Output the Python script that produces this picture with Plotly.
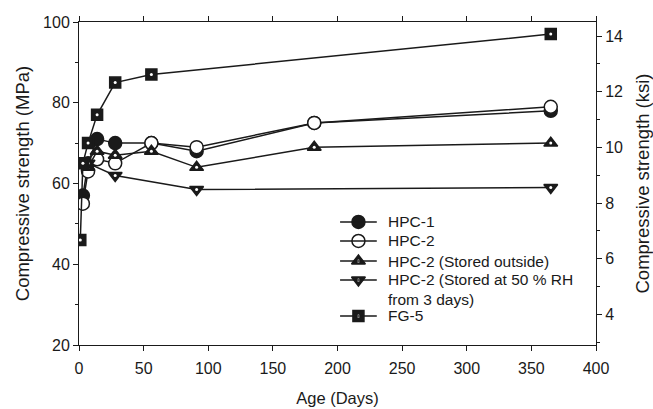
import plotly.graph_objects as go

# Compressive strength development (MPa) versus age (days)
hpc1_days = [3, 7, 14, 28, 56, 91, 182, 365]
hpc1_mpa = [57, 65, 71, 70, 70, 68, 75, 78]

hpc2_days = [3, 7, 14, 28, 56, 91, 182, 365]
hpc2_mpa = [55, 63, 66, 65, 70, 69, 75, 79]

outside_days = [7, 14, 28, 56, 91, 182, 365]
outside_mpa = [64, 68, 67, 68, 64, 69, 70]

rh50_days = [7, 28, 91, 365]
rh50_mpa = [65, 62, 58.5, 59]

fg5_days = [1, 3, 7, 14, 28, 56, 365]
fg5_mpa = [46, 65, 70, 77, 85, 87, 97]

series_names = [
    "HPC-1",
    "HPC-2",
    "HPC-2 (Stored outside)",
    "HPC-2 (Stored at 50 % RH<br>from 3 days)",
    "FG-5",
]

MPA_TO_KSI = 0.145038
y_range = [20, 100]

FONT = "Liberation Sans, Arial, sans-serif"
BLACK = "#1a1a1a"

# marker styles: (symbol, fill, size, white centre dot)
styles = [
    ("circle", BLACK, 13, False),
    ("circle", "white", 13, False),
    ("triangle-up", BLACK, 12, True),
    ("triangle-down", BLACK, 12, True),
    ("square", BLACK, 11, True),
]
data = [
    (hpc1_days, hpc1_mpa),
    (hpc2_days, hpc2_mpa),
    (outside_days, outside_mpa),
    (rh50_days, rh50_mpa),
    (fg5_days, fg5_mpa),
]

fig = go.Figure()

for (days, vals), (symbol, fill, size, dot), name in zip(data, styles, series_names):
    fig.add_trace(go.Scatter(
        x=days, y=vals, name=name.replace("<br>", " "), mode="lines+markers",
        showlegend=False,
        line=dict(color=BLACK, width=1.5),
        marker=dict(symbol=symbol, size=size, color=fill,
                    line=dict(color=BLACK, width=1.5)),
    ))
    if dot:
        fig.add_trace(go.Scatter(
            x=days, y=vals, mode="markers", showlegend=False, hoverinfo="skip",
            marker=dict(symbol="circle", size=3, color="white", line=dict(width=0)),
        ))

# secondary axis carrier for the ksi scale
fig.add_trace(go.Scatter(
    x=[0, 0], y=[v * MPA_TO_KSI for v in y_range], yaxis="y2",
    mode="markers", marker=dict(opacity=0), showlegend=False, hoverinfo="skip",
))

# ---- key (placed in plot-area fractions; markers on a hidden overlay axis) ----
key_x0, key_x1 = 0.505, 0.576      # line sample extent
key_text_x = 0.593
key_rows = [0.381, 0.322, 0.260, 0.201, 0.090]
key_text_top = [None, None, None, 0.236, None]

key_mid = (key_x0 + key_x1) / 2
for (symbol, fill, size, dot), name, ky, top in zip(styles, series_names, key_rows, key_text_top):
    fig.add_shape(type="line", xref="paper", yref="paper",
                  x0=key_x0, x1=key_x1, y0=ky, y1=ky,
                  line=dict(color=BLACK, width=1.5))
    fig.add_trace(go.Scatter(
        x=[key_mid], y=[ky], xaxis="x3", yaxis="y3", mode="markers",
        showlegend=False, hoverinfo="skip",
        marker=dict(symbol=symbol, size=size, color=fill,
                    line=dict(color=BLACK, width=1.5)),
    ))
    if dot:
        fig.add_trace(go.Scatter(
            x=[key_mid], y=[ky], xaxis="x3", yaxis="y3", mode="markers",
            showlegend=False, hoverinfo="skip",
            marker=dict(symbol="circle", size=3, color="white", line=dict(width=0)),
        ))
    if top is None:
        fig.add_annotation(x=key_text_x, y=ky, xref="paper", yref="paper",
                           text=name, showarrow=False, xanchor="left", yanchor="middle",
                           align="left", font=dict(family=FONT, size=15.5, color=BLACK))
    else:
        fig.add_annotation(x=key_text_x, y=top, xref="paper", yref="paper",
                           text=name, showarrow=False, xanchor="left", yanchor="top",
                           align="left", font=dict(family=FONT, size=15.5, color=BLACK))

axis_common = dict(
    showline=True, linecolor=BLACK, linewidth=1, showgrid=False, zeroline=False,
    ticks="outside", ticklen=5, tickwidth=1, tickcolor=BLACK, automargin=False,
    tickfont=dict(family=FONT, size=16, color=BLACK),
)

fig.update_layout(
    width=653, height=409,
    margin=dict(l=79, r=57, t=22, b=64),
    paper_bgcolor="white", plot_bgcolor="white",
    font=dict(family=FONT, size=15, color=BLACK),
    showlegend=False,
    xaxis=dict(
        range=[0, 400], dtick=50, mirror="ticks", ticklabelstandoff=4,
        title=dict(text="Age (Days)", font=dict(size=16.5), standoff=16),
        **axis_common,
    ),
    yaxis=dict(
        range=y_range, dtick=20,
        minor=dict(dtick=10, ticks="outside", ticklen=3, tickcolor=BLACK),
        title=dict(text="Compressive strength (MPa)", font=dict(size=18.5), standoff=8),
        **axis_common,
    ),
    yaxis2=dict(
        range=[v * MPA_TO_KSI for v in y_range], overlaying="y", side="right",
        tick0=0, dtick=2,
        minor=dict(dtick=1, ticks="outside", ticklen=3, tickcolor=BLACK),
        title=dict(text="Compressive strength (ksi)", font=dict(size=18.5), standoff=13),
        **axis_common,
    ),
    xaxis3=dict(range=[0, 1], overlaying="x", visible=False, fixedrange=True, automargin=False),
    yaxis3=dict(range=[0, 1], overlaying="y", visible=False, fixedrange=True, automargin=False),
)

fig.write_html("out.html")
